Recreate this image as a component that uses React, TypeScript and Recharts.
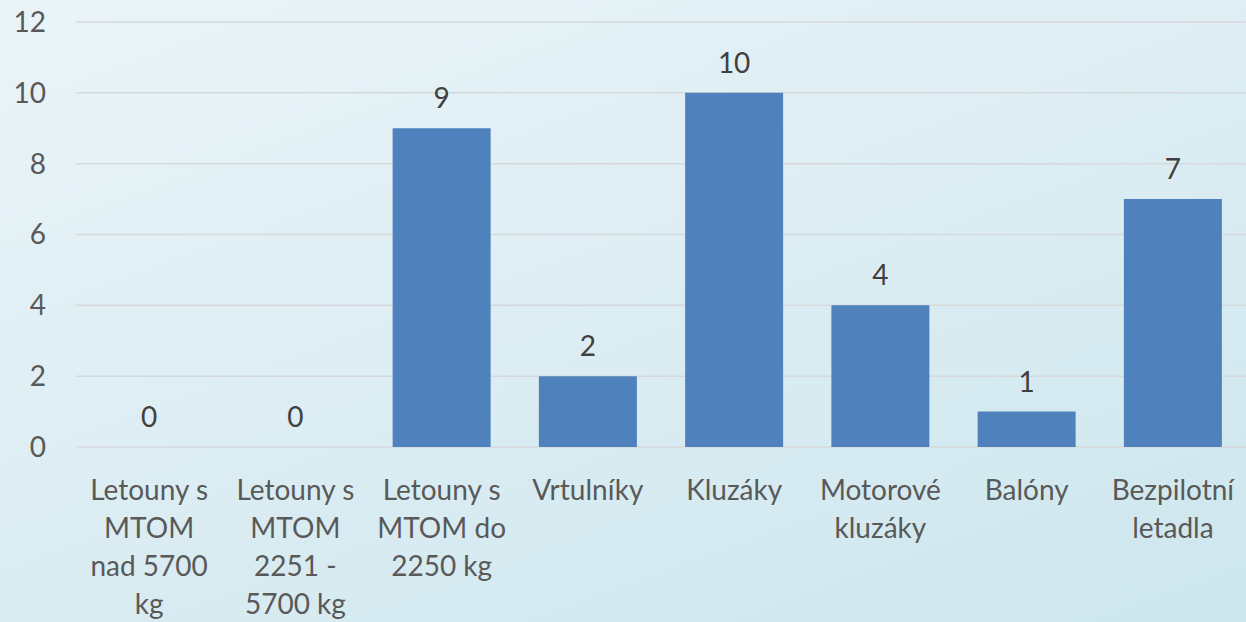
import { BarChart, Bar, XAxis, YAxis, CartesianGrid, LabelList } from 'recharts'

const categories = [
  'Letouny s\nMTOM\nnad 5700\nkg',
  'Letouny s\nMTOM\n2251 -\n5700 kg',
  'Letouny s\nMTOM do\n2250 kg',
  'Vrtulníky',
  'Kluzáky',
  'Motorové\nkluzáky',
  'Balóny',
  'Bezpilotní\nletadla',
]
const counts = [0, 0, 9, 2, 10, 4, 1, 7]
const yTicks = [0, 2, 4, 6, 8, 10, 12]

const data = categories.map((name, i) => ({ name, value: counts[i] }))

const FONT = 'Lato, "Open Sans", sans-serif'

function CategoryTick({ x, y, payload }: any) {
  const lines = String(payload.value).split('\n')
  return (
    <text
      x={x}
      y={y}
      textAnchor="middle"
      fill="#595959"
      fontSize={28}
      fontFamily={FONT}
    >
      {lines.map((line, i) => (
        <tspan key={i} x={x} dy={i === 0 ? 45 : 38}>
          {line}
        </tspan>
      ))}
    </text>
  )
}

function ValueLabel({ x, y, width, value }: any) {
  return (
    <text
      x={Number(x) + Number(width) / 2}
      y={Number(y) - 20}
      textAnchor="middle"
      fill="#404040"
      fontSize={28}
      fontFamily={FONT}
    >
      {value}
    </text>
  )
}

export default function App() {
  return (
    <div
      style={{
        position: 'absolute',
        left: 0,
        top: 0,
        width: 1246,
        height: 622,
        background: 'linear-gradient(160deg, #eaf4f8 0%, #dcedf3 50%, #cde6ee 100%)',
      }}
    >
      <BarChart
        width={1246}
        height={622}
        data={data}
        margin={{ top: 22, right: 0, left: 0, bottom: 0 }}
        barCategoryGap="16.5%"
      >
        <CartesianGrid vertical={false} stroke="#d6d9db" strokeWidth={1.5} />
        <XAxis
          dataKey="name"
          axisLine={false}
          tickLine={false}
          interval={0}
          height={175}
          tick={<CategoryTick />}
        />
        <YAxis
          domain={[0, 12]}
          ticks={yTicks}
          axisLine={false}
          tickLine={false}
          tickSize={0}
          tickMargin={30}
          width={76}
          tick={{ fill: '#595959', fontSize: 28, fontFamily: FONT }}
        />
        <Bar dataKey="value" fill="#4f81bd" minPointSize={0.01} isAnimationActive={false}>
          <LabelList dataKey="value" content={<ValueLabel />} />
        </Bar>
      </BarChart>
    </div>
  )
}
